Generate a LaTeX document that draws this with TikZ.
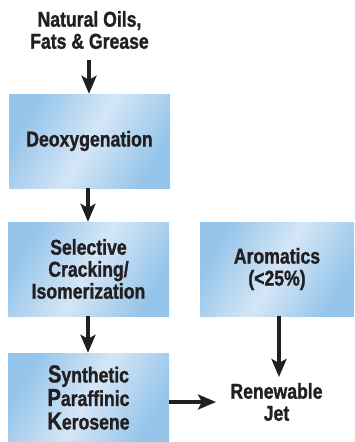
\documentclass[tikz,border=0pt]{standalone}
\usepackage{fontspec}
\setmainfont{Liberation Sans}[FakeStretch=0.82, BoldFeatures={FakeBold=1.2}]
\usetikzlibrary{arrows.meta}
\definecolor{boxdark}{RGB}{148,196,234}
\definecolor{boxlight}{RGB}{212,230,246}
\definecolor{inkc}{RGB}{35,31,32}
\tikzset{
  procbox/.style={rectangle, inner sep=0pt, minimum width=#1, align=center,
    font=\bfseries\fontsize{21.5}{22}\selectfont, text=inkc,
    top color=boxdark, bottom color=boxdark, middle color=boxlight, shading angle=60},
  plain/.style={align=center, inner sep=0pt, font=\bfseries\fontsize{21.5}{22}\selectfont, text=inkc},
  flow/.style={draw=inkc, line width=3.4pt, -{Stealth[width=15pt,length=18pt,inset=4pt]}},
}
\newcommand{\initcap}[1]{{\fontsize{24.5}{23.5}\selectfont #1}}
\begin{document}
\begin{tikzpicture}[x=1pt,y=-1pt]
\useasboundingbox (0,0) rectangle (354,442);
\node[plain] (src) at (89.5,30) {Natural Oils,\\Fats \& Grease};
\node[procbox=161pt, minimum height=94pt] (deox) at (89.5,141) {Deoxygenation};
\node[procbox=161pt, minimum height=94pt] (crack) at (88.5,269) {Selective\\Cracking/\\Isomerization};
\node[procbox=154pt, minimum height=94pt] (arom) at (277,269) {Aromatics\\(<25\%)};
\node[procbox=161pt, minimum height=89pt, font=\bfseries\fontsize{21.5}{23.5}\selectfont] (spk) at (88.5,397.5) {\initcap{S}ynthetic\\\initcap{P}araffinic\\\initcap{K}erosene};
\node[plain] (jet) at (276.5,402) {Renewable\\Jet};
\coordinate (srcend) at (89,60);
\coordinate (jetin) at (279,377);
\coordinate (jetleft) at (216,402);
\draw[flow] (srcend) -- (deox.north -| srcend);
\draw[flow] (deox.south -| 88,0) -- (crack.north -| 88,0);
\draw[flow] (crack.south -| 88,0) -- (spk.north -| 88,0);
\draw[flow] (arom.south -| jetin) -- (jetin);
\draw[flow] (spk.east |- jetleft) -- (jetleft);
\end{tikzpicture}
\end{document}
